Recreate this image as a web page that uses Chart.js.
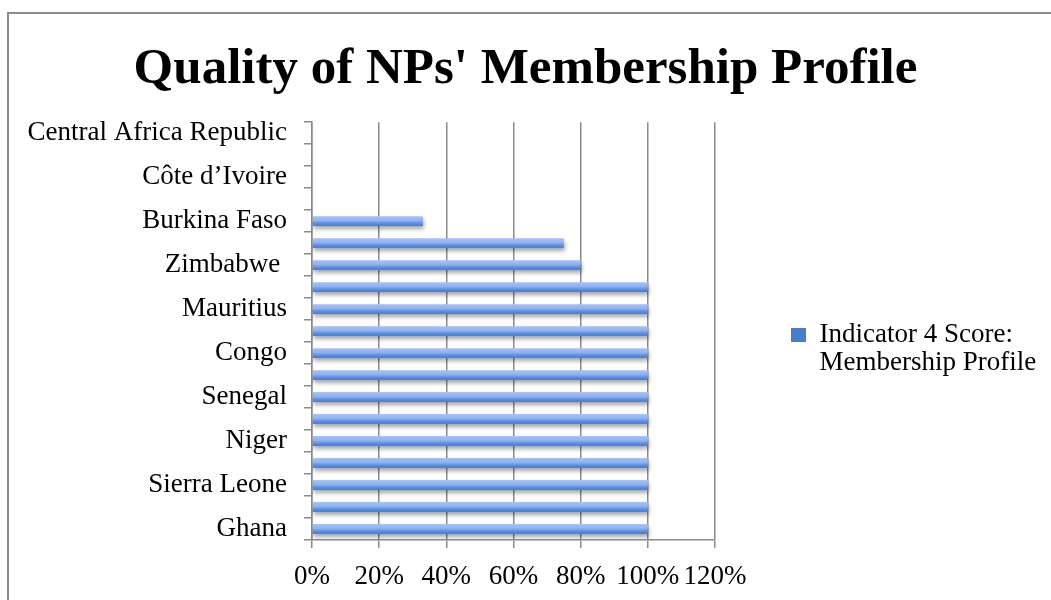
<!DOCTYPE html>
<html>
<head>
<meta charset="utf-8">
<script src="https://cdn.jsdelivr.net/npm/chart.js@4.4.1/dist/chart.umd.min.js"></script>
<style>
  html, body { margin: 0; padding: 0; background: #ffffff; }
  #wrap { width: 1051px; height: 600px; position: relative; }
</style>
</head>
<body>
<div id="wrap"><canvas id="c" width="1051" height="600"></canvas></div>
<script>
// Categories listed top to bottom (only every other one is labelled in the source)
const categories = [
  'Central Africa Republic', '', 'Côte d\u2019Ivoire', '', 'Burkina Faso', '',
  'Zimbabwe ', '', 'Mauritius', '', 'Congo', '', 'Senegal', '', 'Niger', '',
  'Sierra Leone', '', 'Ghana'
];
// Indicator 4 Score: Membership Profile (fraction, 1 = 100%)
const scores = [
  0, 0, 0, 0, 0.33, 0.75,
  0.80, 1, 1, 1, 1, 1, 1, 1, 1, 1,
  1, 1, 1
];
const seriesLabel = ['Indicator 4 Score:', 'Membership Profile'];
const xTicks = [0, 0.2, 0.4, 0.6, 0.8, 1.0, 1.2];
const chartTitle = "Quality of NPs' Membership Profile";

const serif = '"Liberation Serif", "Times New Roman", serif';
const gridGrey = '#8a8a8a';

const frame = {
  id: 'frame',
  beforeDraw(chart) {
    const c = chart.ctx;
    c.save();
    c.strokeStyle = '#8c8c8c';
    c.lineWidth = 2;
    c.strokeRect(8, 13, 1200, 800);
    c.restore();
  }
};
const barShadow = {
  id: 'barShadow',
  beforeDatasetsDraw(chart) {
    const c = chart.ctx;
    c.save();
    c.shadowColor = 'rgba(0,0,0,0.35)';
    c.shadowBlur = 4;
    c.shadowOffsetY = 3;
    c.shadowOffsetX = 1;
  },
  afterDatasetsDraw(chart) {
    chart.ctx.restore();
  }
};
// Give the right-hand legend a fixed width so the chart area ends where the source's does
const legendWidth = {
  id: 'legendWidth',
  afterInit(chart) {
    const lg = chart.legend;
    if (!lg || lg._fixedWidth) return;
    const orig = lg.fit.bind(lg);
    lg.fit = function () { orig(); this.width = 336; };
    lg._fixedWidth = true;
  }
};

function barFill(ctx) {
  const chart = ctx.chart;
  if (ctx.type !== 'data' || !chart.scales || !chart.scales.y) return '#7aa4ec';
  const y = chart.scales.y;
  const yc = y.getPixelForValue(ctx.dataIndex);
  const h = 10;
  const g = chart.ctx.createLinearGradient(0, yc - h / 2, 0, yc + h / 2);
  g.addColorStop(0, '#a4c4fa');
  g.addColorStop(0.45, '#8cb2f3');
  g.addColorStop(0.7, '#5f90e0');
  g.addColorStop(1, '#4a7ccd');
  return g;
}

new Chart(document.getElementById('c'), {
  type: 'bar',
  data: {
    labels: categories,
    datasets: [{
      label: seriesLabel,
      data: scores,
      backgroundColor: barFill,
      borderWidth: 0,
      barPercentage: 0.9,
      categoryPercentage: 0.5
    }]
  },
  options: {
    indexAxis: 'y',
    responsive: false,
    animation: false,
    layout: { padding: { left: 0, right: 0, top: 0, bottom: 0 } },
    plugins: {
      title: {
        display: true,
        text: chartTitle,
        color: '#000',
        font: { family: serif, size: 51, weight: 'bold' },
        padding: { top: 39, bottom: 22 }
      },
      legend: {
        position: 'right',
        fullSize: false,
        align: 'center',
        title: { display: true, text: ' ', font: { size: 10 }, padding: 12 },
        labels: {
          color: '#000',
          font: { family: serif, size: 27, lineHeight: 1.02 },
          boxWidth: 15,
          boxHeight: 14,
          padding: 76
        }
      },
      tooltip: { enabled: false }
    },
    scales: {
      x: {
        min: 0,
        max: 1.2,
        afterBuildTicks(scale) { scale.ticks = xTicks.map(v => ({ value: v })); },
        afterFit(scale) { scale.height = 60; },
        ticks: {
          color: '#000',
          font: { family: serif, size: 27 },
          padding: 13,
          autoSkip: false,
          minRotation: 0,
          maxRotation: 0,
          callback: (v) => Math.round(v * 100) + '%'
        },
        grid: { color: gridGrey, lineWidth: 1.5, tickLength: 8 },
        border: { color: gridGrey, width: 1.5 }
      },
      y: {
        afterFit(scale) { scale.width = 312; },
        ticks: {
          color: '#000',
          font: { family: serif, size: 27 },
          padding: 17,
          autoSkip: false
        },
        grid: { drawOnChartArea: false, color: gridGrey, lineWidth: 1.5, tickLength: 8, offset: true },
        border: { color: gridGrey, width: 1.5 }
      }
    }
  },
  plugins: [frame, barShadow, legendWidth]
});
</script>
</body>
</html>
